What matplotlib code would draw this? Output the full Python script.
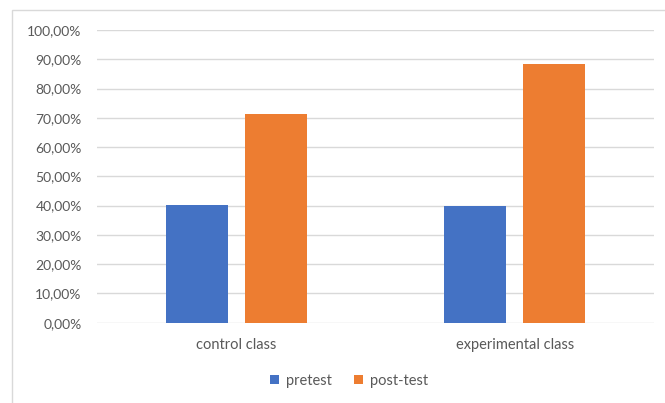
import matplotlib.pyplot as plt
from matplotlib.patches import Rectangle
from matplotlib.ticker import FuncFormatter
import numpy as np

categories = ["control class", "experimental class"]
pretest = [0.402, 0.398]
posttest = [0.712, 0.883]
series_names = ["pretest", "post-test"]
y_ticks = [i / 10 for i in range(11)]

W, H = 665, 403
plt.rcParams['font.family'] = ['Lato', 'DejaVu Sans']
txt = '#595959'

fig = plt.figure(figsize=(W / 100, H / 100), dpi=100)
ax = fig.add_axes([97 / W, (H - 322.7) / H, (654 - 97) / W, (322.7 - 30) / H])

# chart border (only left and top visible in the crop)
fig.patches.append(Rectangle((12 / W, -0.2), 2, (H - 10) / H + 0.2, transform=fig.transFigure,
                             fill=False, edgecolor='#d9d9d9', linewidth=1))

x = np.arange(len(categories))
bw = 0.2237
off = 0.1418
ax.bar(x - off, pretest, bw, color='#4472C4', label=series_names[0], zorder=3)
ax.bar(x + off, posttest, bw, color='#ED7D31', label=series_names[1], zorder=3)

ax.set_xlim(-0.5, 1.5)
ax.set_ylim(0, 1.0)
ax.set_yticks(y_ticks)
ax.yaxis.set_major_formatter(FuncFormatter(lambda v, p: ("%.2f%%" % (v * 100)).replace('.', ',')))
ax.set_xticks(x)
ax.set_xticklabels(categories)
ax.grid(axis='y', color='#d9d9d9', linewidth=1, zorder=0)
for s in ax.spines.values():
    s.set_visible(False)
ax.tick_params(axis='both', length=0, colors=txt)
ax.tick_params(axis='y', pad=11, labelsize=10)
ax.tick_params(axis='x', pad=11, labelsize=10.5)

ax.legend(loc='center', bbox_to_anchor=(349 / W, (H - 381) / H), bbox_transform=fig.transFigure,
          ncol=2, frameon=False, fontsize=10.5, labelcolor=txt, handlelength=0.6, handleheight=0.6,
          handletextpad=0.5, columnspacing=1.5)

fig.savefig("out.png", dpi=100)
